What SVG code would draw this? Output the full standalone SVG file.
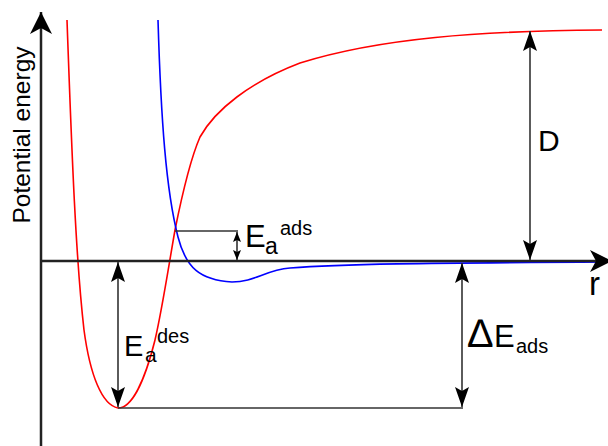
<svg xmlns="http://www.w3.org/2000/svg" width="608" height="446" viewBox="0 0 608 446">
<style>
.lbl{font-family:"Liberation Sans",Arial,sans-serif;fill:#000}
.axis{stroke:#222;stroke-width:2.5;fill:none}
.dim{stroke:#333;stroke-width:1.6;fill:none}
.red{stroke:#ff0000;stroke-width:1.6;fill:none}
.blue{stroke:#0000ff;stroke-width:1.6;fill:none}
</style>
<defs>
<marker id="big" markerUnits="userSpaceOnUse" markerWidth="22" markerHeight="24" refX="22" refY="11" orient="auto"><path d="M0,0 L22,11 L0,22 L6,11 Z" fill="#000"/></marker>
<marker id="med" markerUnits="userSpaceOnUse" markerWidth="20" markerHeight="16" refX="20" refY="7" orient="auto-start-reverse"><path d="M0,0 L20,7 L0,14 L4,7 Z" fill="#000"/></marker>
<marker id="sm" markerUnits="userSpaceOnUse" markerWidth="10" markerHeight="8" refX="10" refY="4" orient="auto-start-reverse"><path d="M0,0 L10,4 L0,8 L2,4 Z" fill="#000"/></marker>
</defs>
<rect width="608" height="446" fill="#fff"/>
<g id="curves">
<path id="red-curve" class="red" d="M67,20 C72,160 76,260 84,330 C90,375 102,405 118,408 C132,408 145,380 155,340 C162,310 168,270 175,230 C182,195 190,160 200,137 C215,110 250,82 300,63 C380,38 480,31 602,30"/>
<path id="blue-curve" class="blue" d="M158,20 C161,120 166,190 178,237 C186,268 200,280 232,282 C255,282 265,270 290,268 C340,264 420,263 608,262"/>
</g>
<g id="connectors">
<line class="axis" x1="41" y1="446" x2="41" y2="12" marker-end="url(#big)"/>
<line class="axis" x1="40" y1="261" x2="612" y2="261" marker-end="url(#big)"/>
<line class="dim" x1="175" y1="231" x2="238" y2="231"/>
<line class="dim" x1="237" y1="232" x2="237" y2="260" marker-start="url(#sm)" marker-end="url(#sm)"/>
<line class="dim" x1="530" y1="31" x2="530" y2="260" marker-start="url(#med)" marker-end="url(#med)"/>
<line class="dim" x1="118" y1="262" x2="118" y2="407" marker-start="url(#med)" marker-end="url(#med)"/>
<line class="dim" x1="462" y1="263" x2="462" y2="407" marker-start="url(#med)" marker-end="url(#med)"/>
<line class="dim" x1="118" y1="408" x2="463" y2="408"/>
</g>
<g id="labels">
<text id="ylabel" class="lbl" font-size="24.5" text-anchor="middle" transform="translate(30,135) rotate(-90)">Potential energy</text>
<text id="r" class="lbl" font-size="33" x="589" y="295">r</text>
<text id="D" class="lbl" font-size="30" x="538" y="151">D</text>
<text id="Eaads" class="lbl"><tspan font-size="31" x="245" y="247">E</tspan><tspan font-size="23" x="265" y="254">a</tspan><tspan font-size="20" x="280" y="235">ads</tspan></text>
<text id="Eades" class="lbl"><tspan font-size="29" x="124" y="356">E</tspan><tspan font-size="21" x="145" y="362">a</tspan><tspan font-size="20" x="157" y="343">des</tspan></text>
<text id="dEads" class="lbl"><tspan font-size="40" x="468" y="347">∆</tspan><tspan font-size="31" x="494" y="347">E</tspan><tspan font-size="20" x="516" y="353">ads</tspan></text>
</g>
</svg>
